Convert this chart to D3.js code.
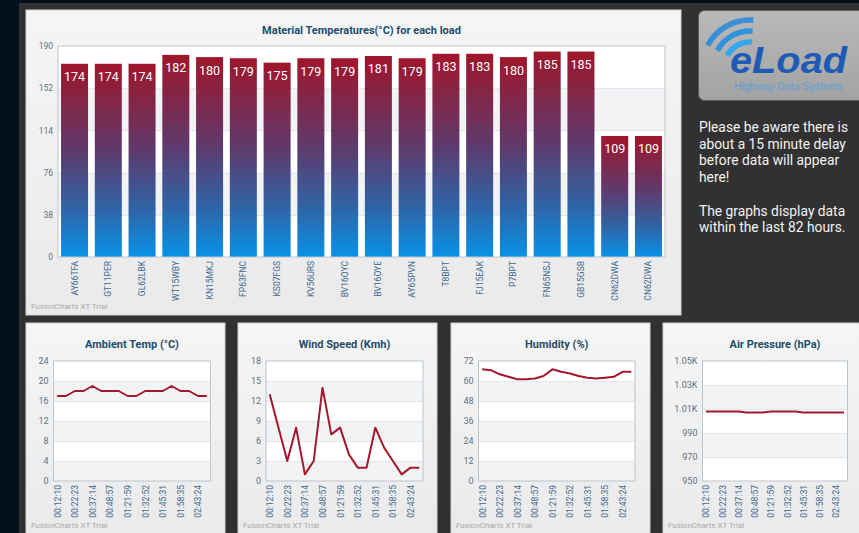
<!DOCTYPE html>
<html>
<head>
<meta charset="utf-8">
<script src="https://cdn.jsdelivr.net/npm/d3@7"></script>
<style>
  html, body { margin: 0; padding: 0; background: #04101c; overflow: hidden; }
  svg { display: block; font-family: Roboto, "Noto Sans", sans-serif; }
</style>
</head>
<body>
<svg id="dash" width="859" height="533"></svg>
<script>
// ---- data ----
const loads = ["AY66TFA","GT11PER","GL62LBK","WT15WBY","KN15MKJ","FP63FNC","KS07FGS","KV56URS","BV16OYC",
               "BV16OYE","AY65PVN","T8BPT","FJ15EAK","P7BPT","FN65NSJ","GB15GSB","CN62DWA","CN62DWA"];
const materialTemps = [174,174,174,182,180,179,175,179,179,181,179,183,183,180,185,185,109,109];
const materialTicks = [0,38,76,114,152,190];

const readingTimes = ["00:12:10","00:22:23","00:37:14","00:48:57","01:21:59","01:32:52","01:45:31","01:58:35","02:43:24"];

const ambientTemp  = [17,17,18,18,19,18,18,18,17,17,18,18,18,19,18,18,17,17];
const ambientTicks = [0,4,8,12,16,20,24];

const windSpeed  = [13,8,3,8,1,3,14,7,8,4,2,2,8,5,3,1,2,2];
const windTicks  = [0,3,6,9,12,15,18];

const humidity      = [67,66.5,64,62.5,61,61,61.5,63,67,65.5,64.5,63,62,61.5,62,62.5,65.5,65.5];
const humidityTicks = [0,12,24,36,48,60,72];

const airPressure   = [1008,1008,1008,1008,1008,1007,1007,1007,1008,1008,1008,1008,1007,1007,1007,1007,1007,1007];
const pressureTicks = [950,970,990,1010,1030,1050];

const noticeLines = [
  ["Please be aware there is", "about a 15 minute delay", "before data will appear", "here!"],
  ["The graphs display data", "within the last 82 hours."]
];

// ---- shared styling ----
const C = {
  page: "#04101c", frame: "#313131",
  title: "#1f4d6b", yTick: "#5d7284", xTick: "#3b6890",
  band: "#f2f3f4", grid: "#e1e7ec", border: "#b9c5cf",
  line: "#a3182b", trial: "#a9a9a9"
};

const svg = d3.select("#dash");
const defs = svg.append("defs");

const barGrad = defs.append("linearGradient").attr("id", "barGrad")
  .attr("x1", 0).attr("y1", 0).attr("x2", 0).attr("y2", 1);
[[0, "#a0162b"], [0.45, "#5e3a6c"], [0.75, "#2f64a6"], [1, "#0892e8"]]
  .forEach(([o, c]) => barGrad.append("stop").attr("offset", o).attr("stop-color", c));

const cardGrad = defs.append("linearGradient").attr("id", "cardGrad")
  .attr("x1", 0).attr("y1", 0).attr("x2", 0).attr("y2", 1);
[[0, "#f5f5f5"], [1, "#eaeaea"]]
  .forEach(([o, c]) => cardGrad.append("stop").attr("offset", o).attr("stop-color", c));

const logoGrad = defs.append("linearGradient").attr("id", "logoGrad")
  .attr("x1", 0).attr("y1", 0).attr("x2", 0).attr("y2", 1);
[[0, "#b9b9b9"], [1, "#a3a3a3"]]
  .forEach(([o, c]) => logoGrad.append("stop").attr("offset", o).attr("stop-color", c));

// page frame
svg.append("rect").attr("x", 0).attr("y", 0).attr("width", 859).attr("height", 533).attr("fill", C.page);
svg.append("rect").attr("x", 19).attr("y", 3).attr("width", 840).attr("height", 530).attr("fill", C.frame);

function card(x, y, w, h) {
  svg.append("rect").attr("x", x).attr("y", y).attr("width", w).attr("height", h)
    .attr("fill", "url(#cardGrad)").attr("stroke", "#d2d2d2").attr("stroke-width", 1);
}

// alternating horizontal bands + grid lines inside a plot
function plotBackground(g, y, ticks, x0, x1) {
  const t = ticks.slice().sort((a, b) => b - a); // top to bottom
  for (let i = 0; i < t.length - 1; i++) {
    g.append("rect")
      .attr("x", x0).attr("width", x1 - x0)
      .attr("y", y(t[i])).attr("height", y(t[i + 1]) - y(t[i]))
      .attr("fill", i % 2 === 1 ? C.band : "#ffffff");
  }
  t.slice(1, -1).forEach(v => {
    g.append("line").attr("x1", x0).attr("x2", x1)
      .attr("y1", Math.round(y(v)) + 0.5).attr("y2", Math.round(y(v)) + 0.5)
      .attr("stroke", C.grid);
  });
}

function plotBorder(g, x0, x1, yTop, yBot) {
  g.append("rect").attr("x", x0).attr("y", yTop).attr("width", x1 - x0).attr("height", yBot - yTop)
    .attr("fill", "none").attr("stroke", C.border).attr("stroke-width", 1);
}

function styleAxis(a) {
  a.select(".domain").remove();
  a.selectAll(".tick line").remove();
}

// ---- main bar chart ----
{
  const x0 = 58, x1 = 665, yTop = 46, yBot = 257;
  card(26, 10, 655, 305);
  const g = svg.append("g");

  const y = d3.scaleLinear().domain([0, 190]).range([yBot, yTop]);
  const x = d3.scaleBand().domain(d3.range(loads.length)).range([x0, x1])
    .paddingInner(0.2).paddingOuter(0.09);

  plotBackground(g, y, materialTicks, x0, x1);

  g.append("text").attr("x", (x0 + x1) / 2).attr("y", 34).attr("text-anchor", "middle")
    .attr("font-size", 11).attr("font-weight", 700).attr("fill", C.title)
    .text("Material Temperatures(°C) for each load");

  const ya = g.append("g").attr("transform", `translate(${x0},0)`)
    .call(d3.axisLeft(y).tickValues(materialTicks).tickSize(0).tickPadding(5));
  styleAxis(ya);
  ya.selectAll("text").attr("font-size", 8.5).attr("fill", C.yTick).attr("font-family", "Roboto, sans-serif");

  const xa = g.append("g").attr("transform", `translate(0,${yBot})`)
    .call(d3.axisBottom(x).tickSize(0).tickFormat(i => loads[i]));
  styleAxis(xa);
  xa.selectAll("text")
    .attr("transform", "rotate(-90)").attr("x", -4).attr("y", 0).attr("dy", "0.35em")
    .attr("text-anchor", "end").attr("font-size", 8.5).attr("fill", C.xTick)
    .attr("font-family", "Roboto, sans-serif");

  g.selectAll("rect.bar").data(materialTemps).join("rect").attr("class", "bar")
    .attr("x", (d, i) => x(i)).attr("width", x.bandwidth())
    .attr("y", d => y(d)).attr("height", d => yBot - y(d))
    .attr("fill", "url(#barGrad)");

  g.selectAll("text.val").data(materialTemps).join("text").attr("class", "val")
    .attr("x", (d, i) => x(i) + x.bandwidth() / 2).attr("y", d => y(d) + 17.5)
    .attr("text-anchor", "middle").attr("font-size", 12.5).attr("fill", "#ffffff")
    .text(d => d);

  plotBorder(g, x0, x1, yTop, yBot);

  g.append("text").attr("x", 31).attr("y", 309).attr("font-size", 8).attr("fill", C.trial)
    .text("FusionCharts XT Trial");
}

// ---- small line charts ----
const panels = [
  { title: "Ambient Temp (°C)",  values: ambientTemp, ticks: ambientTicks,  cardX: 26,  x0: 53.5,  x1: 210.5 },
  { title: "Wind Speed (Kmh)",   values: windSpeed,   ticks: windTicks,     cardX: 238, x0: 266,   x1: 423 },
  { title: "Humidity (%)",       values: humidity,    ticks: humidityTicks, cardX: 451, x0: 478.5, x1: 635 },
  { title: "Air Pressure (hPa)", values: airPressure, ticks: pressureTicks, cardX: 663, x0: 702.5, x1: 847.5,
    fmt: d => d >= 1000 ? (d / 1000).toFixed(2) + "K" : d }
];

panels.forEach(p => {
  const yTop = 361, yBot = 481;
  card(p.cardX, 323, 199, 220);
  const g = svg.append("g");

  const y = d3.scaleLinear().domain(d3.extent(p.ticks)).range([yBot, yTop]);
  const x = d3.scalePoint().domain(d3.range(p.values.length)).range([p.x0, p.x1]).padding(0.42);

  plotBackground(g, y, p.ticks, p.x0, p.x1);

  g.append("text").attr("x", (p.x0 + p.x1) / 2).attr("y", 348).attr("text-anchor", "middle")
    .attr("font-size", 11).attr("font-weight", 700).attr("fill", C.title).text(p.title);

  const ya = g.append("g").attr("transform", `translate(${p.x0},0)`)
    .call(d3.axisLeft(y).tickValues(p.ticks).tickSize(0).tickPadding(5)
      .tickFormat(p.fmt || (d => d)));
  styleAxis(ya);
  ya.selectAll("text").attr("font-size", 9).attr("fill", C.yTick).attr("font-family", "Roboto, sans-serif");

  const shown = d3.range(0, p.values.length, 2);
  const xa = g.append("g").attr("transform", `translate(0,${yBot})`)
    .call(d3.axisBottom(x).tickValues(shown).tickSize(0).tickFormat(i => readingTimes[i / 2]));
  styleAxis(xa);
  xa.selectAll("text")
    .attr("transform", "rotate(-90)").attr("x", -4).attr("y", 0).attr("dy", "0.35em")
    .attr("text-anchor", "end").attr("font-size", 8.5).attr("fill", C.xTick)
    .attr("font-family", "Roboto, sans-serif");

  g.append("path").datum(p.values)
    .attr("d", d3.line().x((d, i) => x(i)).y(d => y(d)))
    .attr("fill", "none").attr("stroke", C.line).attr("stroke-width", 2)
    .attr("stroke-linejoin", "round");

  plotBorder(g, p.x0, p.x1, yTop, yBot);

  g.append("text").attr("x", p.cardX + 5).attr("y", 528).attr("font-size", 8).attr("fill", C.trial)
    .text("FusionCharts XT Trial");
});

// ---- logo ----
{
  const g = svg.append("g");
  g.append("rect").attr("x", 698.5).attr("y", 10.5).attr("width", 170).attr("height", 90).attr("rx", 6)
    .attr("fill", "url(#logoGrad)").attr("stroke", "#5a5a5a").attr("stroke-width", 1);

  const arc = d3.arc();
  const waves = [
    { r: 26, color: "#36a6ea" },
    { r: 37, color: "#2f92de" },
    { r: 48, color: "#3a8fd6" }
  ];
  waves.forEach(w => {
    g.append("path")
      .attr("transform", "translate(750,68)")
      .attr("d", arc({ innerRadius: w.r - 2.8, outerRadius: w.r + 2.8,
                       startAngle: -62 * Math.PI / 180, endAngle: 4 * Math.PI / 180, cornerRadius: 2.8 }))
      .attr("fill", w.color);
  });

  g.append("text").attr("x", 730).attr("y", 72.5)
    .attr("font-family", "'Liberation Sans', Arial, sans-serif").attr("font-size", 37)
    .attr("font-weight", 700).attr("font-style", "italic").attr("fill", "#1d5bb6")
    .attr("textLength", 117).attr("lengthAdjust", "spacingAndGlyphs")
    .text("eLoad");
  g.append("text").attr("x", 734).attr("y", 89.5)
    .attr("font-family", "'Liberation Sans', Arial, sans-serif").attr("font-size", 10)
    .attr("fill", "#5c9fd8").attr("textLength", 109).attr("lengthAdjust", "spacingAndGlyphs")
    .text("Highway Data Systems");
}

// ---- notice text ----
{
  const g = svg.append("g").attr("font-size", 13.8).attr("fill", "#f2f2f2");
  let yPos = 132;
  noticeLines.forEach(block => {
    block.forEach(line => {
      g.append("text").attr("x", 699).attr("y", yPos).text(line);
      yPos += 16.7;
    });
    yPos += 16.7;
  });
}
</script>
</body>
</html>
